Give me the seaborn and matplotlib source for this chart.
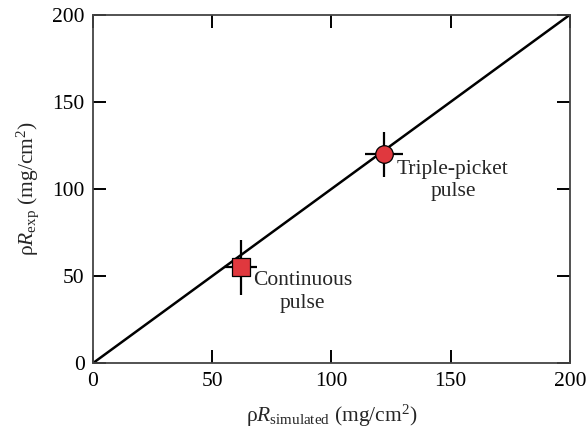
import matplotlib
matplotlib.use("Agg")
import matplotlib.pyplot as plt
import seaborn as sns
import pandas as pd

# Data
line_x = [0, 200]
line_y = [0, 200]
labels = ["Continuous\npulse", "Triple-picket\npulse"]
sim_x = [62, 122]
exp_y = [55, 120]
x_err = [7, 8]
y_err = [16, 13]
markers = ["s", "o"]
tick_vals = [0, 50, 100, 150, 200]

sns.set_theme(style="white")
plt.rcParams['font.family'] = ['Liberation Serif', 'DejaVu Serif']
plt.rcParams['mathtext.fontset'] = 'custom'
plt.rcParams['mathtext.rm'] = 'Liberation Serif'
plt.rcParams['mathtext.it'] = 'Liberation Serif:italic'

FS = 15.5

fig = plt.figure(figsize=(5.88, 4.36), dpi=100)
ax = fig.add_axes([0.158, 0.167, 0.811, 0.799])

df_line = pd.DataFrame({"x": line_x, "y": line_y})
sns.lineplot(data=df_line, x="x", y="y", ax=ax, color="black", lw=1.8, zorder=2)

marker_sizes = [175, 160]
for i in range(len(sim_x)):
    ax.errorbar(sim_x[i], exp_y[i], xerr=x_err[i], yerr=y_err[i], fmt="none",
                ecolor="black", elinewidth=1.6, capsize=0, zorder=3)
    df_pt = pd.DataFrame({"x": [sim_x[i]], "y": [exp_y[i]]})
    sns.scatterplot(data=df_pt, x="x", y="y", ax=ax, marker=markers[i], s=marker_sizes[i],
                    color="#e0383e", edgecolor="black", linewidth=0.9, zorder=4)

ax.text(88, 41, labels[0], ha="center", va="center", fontsize=FS, linespacing=1.25)
ax.text(151, 105, labels[1], ha="center", va="center", fontsize=FS, linespacing=1.25)

ax.set_xlim(0, 200)
ax.set_ylim(0, 200)
ax.set_xticks(tick_vals)
ax.set_yticks(tick_vals)
ax.tick_params(direction="in", length=9.5, width=1.4, top=True, right=True,
               bottom=True, left=True, labelsize=FS, colors="black", pad=6)
for s in ax.spines.values():
    s.set_color("#444444")
    s.set_linewidth(1.3)

ax.set_xlabel(r"ρ$R_{\mathrm{simulated}}$ (mg/cm$^2$)", fontsize=FS, labelpad=9)
ax.set_ylabel(r"ρ$R_{\mathrm{exp}}$ (mg/cm$^2$)", fontsize=FS, labelpad=8)

fig.savefig("out.png", dpi=100)
